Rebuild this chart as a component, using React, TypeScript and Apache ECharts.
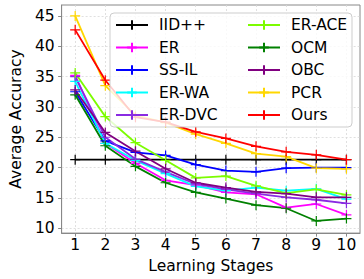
import React, { useEffect, useRef } from "react";
import * as echarts from "echarts";

const stages = [1, 2, 3, 4, 5, 6, 7, 8, 9, 10];
const yTicks = [10, 15, 20, 25, 30, 35, 40, 45];

const iid = [21.3, 21.3, 21.3, 21.3, 21.3, 21.3, 21.3, 21.3, 21.3, 21.3];
const er = [35.2, 24.0, 20.7, 17.9, 17.1, 15.9, 15.6, 13.4, 14.0, 12.2];
const ssil = [32.5, 24.4, 22.5, 22.0, 20.5, 19.5, 19.3, 19.9, 20.0, 20.0];
const erwa = [34.2, 24.0, 21.2, 19.0, 16.9, 16.2, 16.7, 16.2, 16.5, 14.8];
const erdvc = [35.0, 25.0, 21.4, 19.3, 17.3, 16.4, 15.7, 15.1, 14.7, 14.1];
const erace = [35.6, 28.4, 24.1, 21.2, 18.3, 18.6, 17.0, 15.8, 16.4, 15.5];
const ocm = [32.0, 23.6, 20.2, 17.5, 15.9, 14.9, 13.8, 13.3, 11.2, 11.6];
const obc = [32.8, 25.8, 22.7, 19.8, 17.5, 16.7, 16.0, 15.7, 15.1, 15.1];
const pcr = [45.0, 33.5, 28.6, 27.4, 25.5, 24.0, 22.3, 21.8, 19.9, 19.8];
const ours = [42.7, 34.4, 28.3, 27.5, 25.9, 24.8, 23.5, 22.6, 22.1, 21.3];

const seriesDefs: [string, number[], string][] = [
  ["IID++", iid, "#000000"],
  ["ER", er, "#ff00ff"],
  ["SS-IL", ssil, "#0000ff"],
  ["ER-WA", erwa, "#00ffff"],
  ["ER-DVC", erdvc, "#8a2be2"],
  ["ER-ACE", erace, "#7cfc00"],
  ["OCM", ocm, "#008000"],
  ["OBC", obc, "#800080"],
  ["PCR", pcr, "#ffd700"],
  ["Ours", ours, "#ff0000"],
];

const FONT = "DejaVu Sans";
const FS = 15.5;
const PLUS = "path://M0,5L10,5M5,0L5,10";

export default function App() {
  const ref = useRef<HTMLDivElement>(null);
  useEffect(() => {
    if (!ref.current) return;
    const chart = echarts.init(ref.current, undefined, { renderer: "svg" });
    const legendCommon = {
      orient: "vertical" as const,
      top: 17,
      padding: 0,
      itemWidth: 32,
      itemHeight: 12,
      itemGap: 6.5,
      z: 11,
      textStyle: {
        fontFamily: FONT,
        fontSize: FS,
        color: "#000",
        lineHeight: 15.5,
        padding: [0, 0, 0, 6],
      },
    };
    chart.setOption({
      animation: false,
      textStyle: { fontFamily: FONT },
      grid: {
        left: 43,
        right: 4,
        top: 5,
        bottom: 36,
        show: true,
        borderColor: "#888",
        borderWidth: 1,
      },
      graphic: [
        {
          type: "rect",
          z: 10,
          shape: { x: 110, y: 13, width: 242, height: 114, r: 4 },
          style: { fill: "rgba(255,255,255,0.8)", stroke: "rgba(200,200,200,0.9)", lineWidth: 1 },
        },
      ],
      legend: [
        { ...legendCommon, left: 115, data: seriesDefs.slice(0, 5).map((s) => s[0]) },
        { ...legendCommon, left: 247, data: seriesDefs.slice(5).map((s) => s[0]) },
      ],
      xAxis: {
        type: "value",
        min: 0.55,
        max: 10.45,
        name: "Learning Stages",
        nameLocation: "middle",
        nameGap: 16,
        nameTextStyle: { fontFamily: FONT, fontSize: FS, color: "#000" },
        axisLine: { show: true, lineStyle: { color: "#888" } },
        axisTick: { show: true, length: 3.5, lineStyle: { color: "#888" }, customValues: stages },
        axisLabel: {
          fontFamily: FONT,
          fontSize: FS,
          color: "#000",
          margin: 4,
          customValues: stages,
          formatter: (v: number) => String(v),
        },
        splitLine: { show: true, lineStyle: { color: "#d8d8d8", type: [2, 2], width: 0.8 } },
      },
      yAxis: {
        type: "value",
        min: 9.2,
        max: 46.8,
        name: "Average Accuracy",
        nameLocation: "middle",
        nameGap: 24,
        nameTextStyle: { fontFamily: FONT, fontSize: FS, color: "#000" },
        axisLine: { show: true, lineStyle: { color: "#888" } },
        axisTick: { show: true, length: 3.5, lineStyle: { color: "#888" }, customValues: yTicks },
        axisLabel: {
          fontFamily: FONT,
          fontSize: FS,
          color: "#000",
          margin: 7,
          customValues: yTicks,
          formatter: (v: number) => String(v),
        },
        splitLine: { show: true, lineStyle: { color: "#d8d8d8", type: [2, 2], width: 0.8 } },
      },
      series: seriesDefs.map(([name, vals, c]) => ({
        name,
        type: "line",
        data: stages.map((s, i) => [s, vals[i]]),
        color: c,
        symbol: PLUS,
        symbolSize: 10,
        showSymbol: true,
        lineStyle: { color: c, width: 1.8 },
        itemStyle: { color: c, borderColor: c, borderWidth: 1.2 },
        emphasis: { disabled: true },
        z: 2,
      })),
    });
    return () => chart.dispose();
  }, []);
  return <div ref={ref} style={{ width: 364, height: 279, position: "absolute", left: 0, top: 0 }} />;
}
